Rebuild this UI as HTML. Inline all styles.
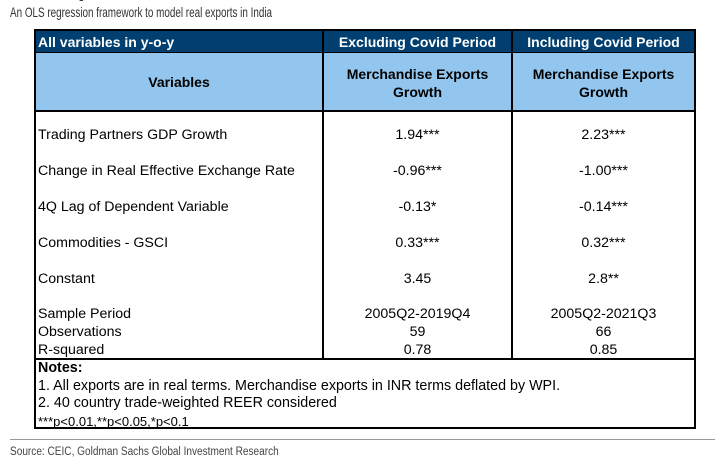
<!DOCTYPE html>
<html><head><meta charset="utf-8"><style>
body{margin:0;width:721px;height:470px;background:#fff;position:relative;overflow:hidden;font-family:"Liberation Sans",Arial,sans-serif;}
.a{position:absolute;}
.t{font-size:14.2px;color:#000;white-space:nowrap;}
.h{font-size:14px;}
.c{text-align:center;}
.sq{transform-origin:0 0;}
</style></head><body>
<div class="a sq" style="left:10px;top:-15px;font-size:15px;font-weight:bold;color:#222;transform:scaleX(0.75)">Exhibit 9: Regression</div>
<div class="a sq" style="left:10px;top:4px;font-size:14px;color:#333;white-space:nowrap;transform:scaleX(0.706)">An OLS regression framework to model real exports in India</div>

<div class="a" style="left:34px;top:29px;width:662px;height:400px;border:2px solid #000;box-sizing:border-box"></div>
<div class="a" style="left:36px;top:31px;width:658px;height:21px;background:#003f6f"></div>
<div class="a" style="left:36px;top:53px;width:658px;height:57px;background:#93c6ee"></div>
<div class="a" style="left:36px;top:52px;width:658px;height:1px;background:#000"></div>
<div class="a" style="left:36px;top:110px;width:658px;height:2px;background:#000"></div>
<div class="a" style="left:322px;top:31px;width:2px;height:328px;background:#000"></div>
<div class="a" style="left:511px;top:31px;width:2px;height:328px;background:#000"></div>
<div class="a" style="left:36px;top:358px;width:658px;height:2px;background:#000"></div>

<div class="a t h" style="left:38px;top:34px;color:#fff;font-weight:bold">All variables in y-o-y</div>
<div class="a t h c" style="left:324px;width:187px;top:34px;color:#fff;font-weight:bold">Excluding Covid Period</div>
<div class="a t h c" style="left:513px;width:181px;top:34px;color:#fff;font-weight:bold">Including Covid Period</div>
<div class="a t h c" style="left:36px;width:286px;top:74px;font-weight:bold">Variables</div>
<div class="a t h c" style="left:324px;width:187px;top:65px;font-weight:bold;line-height:18px">Merchandise Exports<br>Growth</div>
<div class="a t h c" style="left:513px;width:181px;top:65px;font-weight:bold;line-height:18px">Merchandise Exports<br>Growth</div>

<div class="a t" style="left:38px;top:127px">Trading Partners GDP Growth</div>
<div class="a t c" style="left:324px;width:187px;top:127px">1.94***</div>
<div class="a t c" style="left:513px;width:181px;top:127px">2.23***</div>
<div class="a t" style="left:38px;top:163px">Change in Real Effective Exchange Rate</div>
<div class="a t c" style="left:324px;width:187px;top:163px">-0.96***</div>
<div class="a t c" style="left:513px;width:181px;top:163px">-1.00***</div>
<div class="a t" style="left:38px;top:199px">4Q Lag of Dependent Variable</div>
<div class="a t c" style="left:324px;width:187px;top:199px">-0.13*</div>
<div class="a t c" style="left:513px;width:181px;top:199px">-0.14***</div>
<div class="a t" style="left:38px;top:235px">Commodities - GSCI</div>
<div class="a t c" style="left:324px;width:187px;top:235px">0.33***</div>
<div class="a t c" style="left:513px;width:181px;top:235px">0.32***</div>
<div class="a t" style="left:38px;top:271px">Constant</div>
<div class="a t c" style="left:324px;width:187px;top:271px">3.45</div>
<div class="a t c" style="left:513px;width:181px;top:271px">2.8**</div>

<div class="a t" style="left:38px;top:305px;line-height:18px">Sample Period<br>Observations<br>R-squared</div>
<div class="a t c" style="left:324px;width:187px;top:305px;line-height:18px">2005Q2-2019Q4<br>59<br>0.78</div>
<div class="a t c" style="left:513px;width:181px;top:305px;line-height:18px">2005Q2-2021Q3<br>66<br>0.85</div>

<div class="a t" style="left:38px;top:360px;line-height:17.7px;font-size:14.3px"><b>Notes:</b><br>1. All exports are in real terms. Merchandise exports in INR terms deflated by WPI.<br>2. 40 country trade-weighted REER considered<br><span style="font-size:13px">***p&lt;0.01,**p&lt;0.05,*p&lt;0.1</span></div>

<div class="a" style="left:10px;top:439px;width:705px;height:1px;background:#999"></div>
<div class="a sq" style="left:10px;top:446px;font-size:11.5px;color:#444;white-space:nowrap;transform:scaleX(0.876)">Source: CEIC, Goldman Sachs Global Investment Research</div>
</body></html>
